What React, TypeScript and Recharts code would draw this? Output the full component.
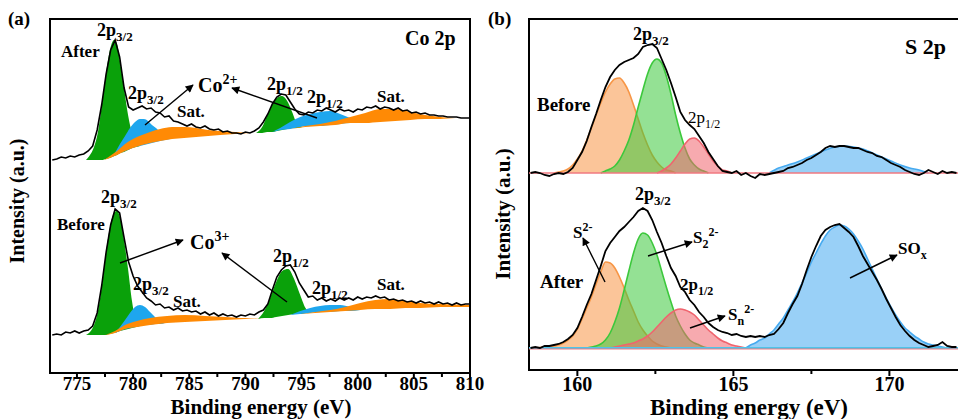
import React from 'react';
import {
  ComposedChart,
  Area,
  Line,
  XAxis,
  YAxis,
  ReferenceArea,
  ReferenceLine,
} from 'recharts';

const SERIF = '"Liberation Serif", "Times New Roman", serif';

// ---------- Co 2p ----------
const coEnergy = [
  772.8, 773.2, 773.6, 774, 774.4, 774.8, 775.2, 775.6, 776, 776.4,
  776.8, 777.2, 777.6, 778, 778.4, 778.8, 779.2, 779.6, 780, 780.4,
  780.8, 781.2, 781.6, 782, 782.4, 782.8, 783.2, 783.6, 784, 784.4,
  784.8, 785.2, 785.6, 786, 786.4, 786.8, 787.2, 787.6, 788, 788.4,
  788.8, 789.2, 789.6, 790, 790.4, 790.8, 791.2, 791.6, 792, 792.4,
  792.8, 793.2, 793.6, 794, 794.4, 794.8, 795.2, 795.6, 796, 796.4,
  796.8, 797.2, 797.6, 798, 798.4, 798.8, 799.2, 799.6, 800, 800.4,
  800.8, 801.2, 801.6, 802, 802.4, 802.8, 803.2, 803.6, 804, 804.4,
  804.8, 805.2, 805.6, 806, 806.4, 806.8, 807.2, 807.6, 808, 808.4,
  808.8, 809.2, 809.6, 810,
];

const coAfter = [
  213, 214, 216, 215, 217, 216, 218, 219, 222, 227,
  243, 268, 299, 323, 333, 316, 285, 266, 263, 265,
  267, 264, 265, 261, 260, 256, 257, 252, 251, 249,
  247, 249, 246, 245, 247, 244, 243, 244, 241, 242,
  240, 240, 239, 241, 240, 242, 245, 251, 259, 269,
  276, 279, 278, 271, 264, 259, 258, 261, 260, 263,
  262, 265, 263, 261, 264, 262, 263, 261, 264, 263,
  266, 265, 267, 264, 266, 265, 263, 265, 262, 263,
  260, 261, 259, 260, 258, 258, 257, 257, 256, 256,
  256, 255, 255, 255,
];

const coBefore = [
  38, 39, 38, 41, 40, 42, 40, 42, 43, 47,
  60, 87, 121, 148, 164, 160, 135, 111, 97, 87,
  81, 75, 72, 68, 69, 65, 66, 63, 65, 62,
  63, 61, 62, 59, 61, 58, 60, 57, 59, 57,
  58, 56, 58, 57, 59, 58, 61, 63, 69, 83,
  96, 103, 107, 108, 101, 90, 83, 76, 77, 73,
  75, 72, 74, 72, 75, 73, 75, 73, 76, 74,
  76, 75, 77, 75, 76, 73, 74, 72, 73, 71,
  72, 70, 72, 70, 71, 69, 71, 69, 70, 68,
  70, 68, 69, 69,
];

// fitted bands: [energy, background, top]
type Band = [number, number, number][];

const coAfterGreen32: Band = [
  [775.8, 213, 213], [776.16, 213, 218], [776.52, 213, 226], [776.87, 213, 241],
  [777.23, 213, 269], [777.58, 214, 299], [777.94, 215, 323], [778.3, 217, 333],
  [778.57, 218, 329], [778.83, 220, 312], [779.19, 221, 285], [779.55, 223, 258],
  [779.9, 225, 240], [780.26, 226, 228], [780.61, 227, 227],
];
const coAfterBlue32: Band = [
  [778.12, 216, 216], [778.48, 218, 222], [778.83, 220, 229], [779.28, 222, 237],
  [779.72, 224, 245], [780.17, 226, 251], [780.61, 227, 254], [780.97, 228, 254],
  [781.33, 229, 252], [781.68, 230, 248], [782.04, 231, 245], [782.4, 232, 241],
  [782.84, 233, 237], [783.29, 234, 235],
];
const coAfterSat1: Band = [
  [777.41, 213, 213], [777.94, 215, 217], [778.57, 218, 222], [779.28, 222, 229],
  [779.99, 225, 234], [780.79, 228, 238], [781.51, 230, 241], [782.4, 232, 244],
  [783.47, 234, 246], [784.54, 235, 246], [785.61, 236, 245], [786.68, 237, 243],
  [787.74, 238, 242], [789.08, 239, 241], [790.42, 240, 240],
];
const coAfterGreen12: Band = [
  [790.95, 240, 240], [791.49, 240, 246], [791.93, 241, 257], [792.38, 241, 268],
  [792.83, 242, 275], [793.27, 243, 277], [793.72, 244, 272], [794.16, 245, 261],
  [794.61, 245, 249], [795.05, 246, 246],
];
const coAfterBlue12: Band = [
  [792.38, 241, 241], [793.09, 243, 245], [793.98, 244, 251], [794.88, 246, 256],
  [795.77, 247, 259], [796.66, 247, 261], [797.55, 248, 262], [798.44, 249, 259],
  [799.33, 250, 255], [800.22, 250, 251],
];
const coAfterSat2: Band = [
  [793.98, 244, 244], [795.32, 246, 247], [796.66, 247, 249], [797.99, 248, 252],
  [799.33, 250, 256], [800.67, 250, 260], [802.01, 251, 264], [803.34, 252, 264],
  [804.68, 253, 261], [806.02, 254, 258], [807.35, 254, 256], [808.69, 255, 255],
  [810, 255, 255],
];

const coBeforeGreen32: Band = [
  [775.8, 38, 38], [776.16, 38, 41], [776.52, 38, 48], [776.87, 38, 62],
  [777.23, 38, 88], [777.58, 38, 120], [777.94, 39, 146], [778.3, 40, 160],
  [778.57, 41, 162], [778.83, 42, 156], [779.19, 43, 133], [779.55, 44, 104],
  [779.9, 45, 72], [780.26, 46, 52], [780.61, 47, 47],
];
const coBeforeBlue32: Band = [
  [778.39, 40, 40], [778.83, 42, 46], [779.28, 44, 53], [779.72, 45, 60],
  [780.17, 46, 66], [780.61, 47, 68], [781.06, 48, 66], [781.51, 48, 61],
  [781.95, 49, 56], [782.4, 49, 52], [782.84, 50, 50],
];
const coBeforeSat1: Band = [
  [777.5, 38, 38], [778.39, 40, 42], [779.28, 44, 48], [780.35, 46, 52],
  [781.51, 48, 55], [783.02, 50, 57], [784.62, 51, 58], [786.41, 52, 57],
  [788.19, 53, 56], [789.97, 54, 55], [791.31, 55, 55],
];
const coBeforeGreen12: Band = [
  [791.13, 54, 54], [791.67, 55, 62], [792.2, 55, 75], [792.74, 56, 91],
  [793.27, 57, 102], [793.81, 58, 104], [794.34, 59, 94], [794.88, 59, 78],
  [795.41, 60, 64], [795.95, 60, 60],
];
const coBeforeBlue12: Band = [
  [793.98, 58, 58], [794.88, 59, 62], [795.77, 60, 65], [796.66, 61, 67],
  [797.55, 61, 68], [798.44, 62, 68], [799.33, 62, 66], [800.22, 63, 63],
];
const coBeforeSat2: Band = [
  [794.88, 59, 59], [796.21, 60, 61], [797.55, 61, 63], [798.89, 62, 66],
  [800.22, 63, 70], [801.56, 64, 73], [802.9, 64, 74], [804.23, 65, 72],
  [805.57, 65, 70], [807.35, 66, 69], [810, 66, 68],
];

const coTicks = [775, 777.5, 780, 782.5, 785, 787.5, 790, 792.5, 795, 797.5, 800, 802.5, 805, 807.5, 810];

// ---------- S 2p ----------
const sEnergy = [
  158.5, 158.65, 158.8, 158.95, 159.1, 159.25, 159.4, 159.55, 159.7, 159.85,
  160, 160.15, 160.3, 160.45, 160.6, 160.75, 160.9, 161.05, 161.2, 161.35,
  161.5, 161.65, 161.8, 161.95, 162.1, 162.25, 162.4, 162.55, 162.7, 162.85,
  163, 163.15, 163.3, 163.45, 163.6, 163.75, 163.9, 164.05, 164.2, 164.35,
  164.5, 164.65, 164.8, 164.95, 165.1, 165.25, 165.4, 165.55, 165.7, 165.85,
  166, 166.15, 166.3, 166.45, 166.6, 166.75, 166.9, 167.05, 167.2, 167.35,
  167.5, 167.65, 167.8, 167.95, 168.1, 168.25, 168.4, 168.55, 168.7, 168.85,
  169, 169.15, 169.3, 169.45, 169.6, 169.75, 169.9, 170.05, 170.2, 170.35,
  170.5, 170.65, 170.8, 170.95, 171.1, 171.25, 171.4, 171.55, 171.7, 171.85,
  172, 172.15,
];

const sBefore = [
  197, 198, 197, 195, 194, 196, 197, 196, 198, 202,
  210, 218, 229, 243, 256, 270, 283, 293, 300, 305,
  308, 310, 312, 316, 323, 325, 326, 322, 311, 300,
  287, 273, 258, 250, 245, 241, 234, 227, 218, 211,
  204, 199, 198, 197, 199, 195, 197, 194, 192, 196,
  195, 196, 197, 198, 199, 202, 203, 205, 207, 210,
  212, 215, 218, 222, 224, 223, 224, 224, 223, 222,
  222, 220, 218, 217, 214, 213, 210, 207, 205, 203,
  200, 198, 196, 195, 197, 200, 198, 196, 199, 197,
  198, 197,
];

const sAfter = [
  22, 23, 22, 24, 24, 25, 26, 28, 31, 35,
  42, 53, 65, 76, 90, 104, 119, 127, 133, 139,
  143, 148, 153, 159, 162, 159, 150, 138, 127, 114,
  102, 94, 83, 78, 70, 65, 58, 53, 47, 43,
  40, 38, 37, 35, 36, 34, 33, 34, 33, 34,
  33, 35, 36, 41, 47, 57, 66, 74, 86, 100,
  113, 124, 134, 140, 143, 145, 146, 142, 138, 133,
  124, 114, 106, 98, 90, 81, 71, 62, 53, 45,
  39, 34, 30, 27, 25, 23, 24, 25, 28, 24,
  23, 23,
];

const sBaseBefore = 197;
const sBaseAfter = 22;

// fitted peaks: [energy, intensity]
type Peak = [number, number][];

const sBeforeS2: Peak = [
  [159.25, 197], [159.4, 198], [159.55, 199], [159.7, 201], [159.85, 205], [160, 211],
  [160.15, 219], [160.3, 230], [160.45, 242], [160.6, 255], [160.75, 267], [160.9, 278],
  [161.05, 286], [161.2, 291], [161.35, 292], [161.5, 287], [161.65, 278], [161.8, 265],
  [161.95, 251], [162.1, 237], [162.25, 225], [162.4, 215], [162.55, 208], [162.7, 203],
  [162.85, 200], [163, 199], [163.15, 197],
];
const sBeforeS22: Peak = [
  [160.75, 197], [160.9, 199], [161.05, 201], [161.2, 204], [161.35, 210], [161.5, 219],
  [161.65, 230], [161.8, 245], [161.95, 263], [162.1, 280], [162.25, 296], [162.4, 307],
  [162.55, 311], [162.7, 307], [162.85, 294], [163, 276], [163.15, 255], [163.3, 237],
  [163.45, 222], [163.6, 211], [163.75, 205], [163.9, 201], [164.05, 199], [164.2, 197],
];
const sBeforeSn: Peak = [
  [162.55, 197], [162.7, 199], [162.85, 202], [163, 206], [163.15, 212], [163.3, 219],
  [163.45, 226], [163.6, 231], [163.75, 232], [163.9, 229], [164.05, 223], [164.2, 216],
  [164.35, 209], [164.5, 204], [164.65, 200], [164.8, 199], [164.95, 197],
];
const sBeforeSOx: Peak = [
  [166.15, 197], [166.45, 202], [166.75, 205], [167.05, 208], [167.35, 212], [167.65, 216],
  [167.95, 220], [168.25, 223], [168.55, 224], [168.85, 223], [169.15, 221], [169.45, 217],
  [169.75, 213], [170.05, 209], [170.35, 205], [170.65, 202], [170.95, 200], [171.25, 197],
];

const sAfterS2: Peak = [
  [158.65, 22], [158.95, 23], [159.25, 24], [159.4, 25], [159.55, 27], [159.7, 30],
  [159.85, 34], [160, 41], [160.15, 51], [160.3, 62], [160.45, 73], [160.6, 86],
  [160.75, 98], [160.9, 108], [161.05, 107], [161.2, 102], [161.35, 93], [161.5, 82],
  [161.65, 70], [161.8, 59], [161.95, 48], [162.1, 40], [162.25, 34], [162.4, 29],
  [162.55, 26], [162.7, 24], [162.85, 23], [163, 22],
];
const sAfterS22: Peak = [
  [160.3, 22], [160.45, 23], [160.6, 24], [160.75, 26], [160.9, 30], [161.05, 37],
  [161.2, 48], [161.35, 62], [161.5, 80], [161.65, 99], [161.8, 117], [161.95, 131],
  [162.1, 137], [162.25, 135], [162.4, 127], [162.55, 115], [162.7, 99], [162.85, 83],
  [163, 68], [163.15, 54], [163.3, 44], [163.45, 36], [163.6, 30], [163.75, 27],
  [163.9, 25], [164.05, 23], [164.2, 22],
];
const sAfterSn: Peak = [
  [161.05, 22], [161.35, 24], [161.65, 26], [161.8, 27], [161.95, 29], [162.1, 31],
  [162.25, 34], [162.4, 38], [162.55, 43], [162.7, 48], [162.85, 53], [163, 57],
  [163.15, 60], [163.3, 61], [163.45, 60], [163.6, 58], [163.75, 55], [163.9, 50],
  [164.05, 45], [164.2, 40], [164.35, 36], [164.5, 32], [164.65, 29], [164.8, 27],
  [164.95, 25], [165.1, 24], [165.4, 22],
];
const sAfterSOx: Peak = [
  [165.4, 22], [165.55, 25], [165.7, 27], [165.85, 30], [166, 32], [166.15, 36],
  [166.3, 40], [166.45, 46], [166.6, 52], [166.75, 60], [166.9, 68], [167.05, 77],
  [167.2, 87], [167.35, 97], [167.5, 108], [167.65, 117], [167.8, 126], [167.95, 134],
  [168.1, 140], [168.25, 143], [168.4, 145], [168.55, 144], [168.7, 141], [168.85, 136],
  [169, 129], [169.15, 121], [169.3, 111], [169.45, 101], [169.6, 91], [169.75, 81],
  [169.9, 72], [170.05, 63], [170.2, 55], [170.35, 48], [170.5, 42], [170.65, 38],
  [170.8, 34], [170.95, 31], [171.1, 28], [171.25, 26], [171.4, 25], [171.55, 24],
  [171.85, 22],
];

const sTicks = [160, 162.5, 165, 167.5, 170, 172.5];

// ---------- row builders ----------
const trace = (energy: number[], values: number[]) =>
  energy.map((e, i) => ({ e, v: values[i] }));
const band = (b: Band) => b.map(([e, lo, hi]) => ({ e, r: [lo, hi] }));
const peak = (p: Peak) => p.map(([e, v]) => ({ e, v }));

const CO_GREEN = '#0aa10a';
const CO_BLUE = '#1ea6ee';
const CO_ORANGE = '#ff8a05';

const AxisTick = (props: any) => {
  const { x, y, payload, fontSize, labelDy } = props;
  const v = payload.value as number;
  const major = Math.abs(v - Math.round(v / 5) * 5) < 1e-6;
  return (
    <g>
      <line x1={x} x2={x} y1={y} y2={y + (major ? 6 : 4)} stroke="#000" strokeWidth={2} />
      {major && (
        <text
          x={x}
          y={y + labelDy}
          textAnchor="middle"
          fontFamily={SERIF}
          fontWeight="bold"
          fontSize={fontSize}
          fill="#000"
        >
          {v}
        </text>
      )}
    </g>
  );
};

const coBand = (b: Band, color: string, key: string) => (
  <Area
    key={key}
    data={band(b)}
    dataKey="r"
    type="monotone"
    stroke="none"
    fill={color}
    fillOpacity={1}
    isAnimationActive={false}
  />
);

const CoPanel = () => (
  <ComposedChart width={490} height={419} margin={{ top: 19, right: 20, bottom: 16, left: 50 }}>
    <XAxis
      dataKey="e"
      type="number"
      domain={[772.6, 810]}
      ticks={coTicks}
      interval={0}
      allowDataOverflow
      axisLine={false}
      tickLine={false}
      tickSize={0}
      tickMargin={0}
      height={30}
      tick={<AxisTick fontSize={19} labelDy={17} />}
    />
    <YAxis hide type="number" domain={[0, 354]} allowDataOverflow />
    {coBand(coAfterGreen32, CO_GREEN, 'ag32')}
    {coBand(coAfterGreen12, CO_GREEN, 'ag12')}
    {coBand(coAfterBlue32, CO_BLUE, 'ab32')}
    {coBand(coAfterBlue12, CO_BLUE, 'ab12')}
    {coBand(coAfterSat1, CO_ORANGE, 'as1')}
    {coBand(coAfterSat2, CO_ORANGE, 'as2')}
    {coBand(coBeforeGreen32, CO_GREEN, 'bg32')}
    {coBand(coBeforeGreen12, CO_GREEN, 'bg12')}
    {coBand(coBeforeBlue32, CO_BLUE, 'bb32')}
    {coBand(coBeforeBlue12, CO_BLUE, 'bb12')}
    {coBand(coBeforeSat1, CO_ORANGE, 'bs1')}
    {coBand(coBeforeSat2, CO_ORANGE, 'bs2')}
    <Line
      data={trace(coEnergy, coAfter)}
      dataKey="v"
      type="linear"
      stroke="#000"
      strokeWidth={1.6}
      dot={false}
      isAnimationActive={false}
    />
    <Line
      data={trace(coEnergy, coBefore)}
      dataKey="v"
      type="linear"
      stroke="#000"
      strokeWidth={1.6}
      dot={false}
      isAnimationActive={false}
    />
    <ReferenceArea x1={772.6} x2={810} y1={0} y2={354} fill="none" stroke="#000" strokeWidth={2} />
  </ComposedChart>
);

const S_ORANGE = '#f79646';
const S_GREEN = '#3cc83c';
const S_RED = '#f0646e';
const S_BLUE = '#46aaf0';

const sPeak = (p: Peak, base: number, color: string, key: string) => (
  <Area
    key={key}
    data={peak(p)}
    dataKey="v"
    baseValue={base}
    type="monotone"
    stroke={color}
    strokeWidth={1.6}
    fill={color}
    fillOpacity={0.55}
    isAnimationActive={false}
  />
);

const SPanel = () => (
  <ComposedChart width={513} height={419} margin={{ top: 19, right: 10, bottom: 19, left: 49 }}>
    <XAxis
      dataKey="e"
      type="number"
      domain={[158.45, 173]}
      ticks={sTicks}
      interval={0}
      allowDataOverflow
      axisLine={false}
      tickLine={false}
      tickSize={0}
      tickMargin={0}
      height={30}
      tick={<AxisTick fontSize={20} labelDy={21} />}
    />
    <YAxis hide type="number" domain={[0, 351]} allowDataOverflow />
    {sPeak(sBeforeS2, sBaseBefore, S_ORANGE, 'bo')}
    {sPeak(sBeforeS22, sBaseBefore, S_GREEN, 'bg')}
    {sPeak(sBeforeSn, sBaseBefore, S_RED, 'br')}
    {sPeak(sBeforeSOx, sBaseBefore, S_BLUE, 'bb')}
    {sPeak(sAfterS2, sBaseAfter, S_ORANGE, 'ao')}
    {sPeak(sAfterS22, sBaseAfter, S_GREEN, 'ag')}
    {sPeak(sAfterSn, sBaseAfter, S_RED, 'ar')}
    {sPeak(sAfterSOx, sBaseAfter, S_BLUE, 'ab')}
    <ReferenceLine y={sBaseBefore} stroke="#f07880" strokeWidth={1.5} />
    <ReferenceLine y={sBaseAfter} stroke="#4fc3e8" strokeWidth={2} />
    <ReferenceLine y={sBaseAfter - 1} stroke="#f07880" strokeWidth={1} />
    <Line
      data={trace(sEnergy, sBefore)}
      dataKey="v"
      type="linear"
      stroke="#000"
      strokeWidth={1.8}
      dot={false}
      isAnimationActive={false}
    />
    <Line
      data={trace(sEnergy, sAfter)}
      dataKey="v"
      type="linear"
      stroke="#000"
      strokeWidth={1.8}
      dot={false}
      isAnimationActive={false}
    />
    <ReferenceArea x1={158.45} x2={173} y1={0} y2={351} fill="none" stroke="#000" strokeWidth={2} />
  </ComposedChart>
);

// text label with optional subscript / superscript run
const Term = ({
  x,
  y,
  base,
  sub,
  sup,
  size = 17,
  weight = 'bold',
}: {
  x: number;
  y: number;
  base: string;
  sub?: string;
  sup?: string;
  size?: number;
  weight?: string;
}) => {
  const small = Math.round(size * 0.7);
  const subDy = size * 0.28;
  return (
    <text x={x} y={y} fontSize={size} fontWeight={weight} fontFamily={SERIF} fill="#000">
      {base}
      {sub && (
        <tspan fontSize={small} dy={subDy}>
          {sub}
        </tspan>
      )}
      {sup && (
        <tspan fontSize={small} dy={sub ? -subDy - size * 0.42 : -size * 0.42}>
          {sup}
        </tspan>
      )}
    </text>
  );
};

const Arrow = ({ x1, y1, x2, y2 }: { x1: number; y1: number; x2: number; y2: number }) => (
  <line x1={x1} y1={y1} x2={x2} y2={y2} stroke="#000" strokeWidth={1.4} markerEnd="url(#head)" />
);

const Annotations = () => (
  <svg
    width={958}
    height={419}
    style={{ position: 'absolute', left: 0, top: 0, pointerEvents: 'none' }}
  >
    <defs>
      <marker
        id="head"
        viewBox="0 0 10 10"
        refX="9"
        refY="5"
        markerWidth="10"
        markerHeight="8"
        markerUnits="userSpaceOnUse"
        orient="auto"
      >
        <path d="M0,0 L10,5 L0,10 z" fill="#000" />
      </marker>
    </defs>

    {/* panel (a) */}
    <Term x={8} y={25} base="(a)" size={19} />
    <Term x={405} y={45} base="Co 2p" size={20} />
    <Term x={61} y={57} base="After" size={17} />
    <Term x={97} y={36} base="2p" sub="3/2" size={18} />
    <Term x={128} y={99} base="2p" sub="3/2" size={18} />
    <Term x={177} y={117} base="Sat." />
    <Term x={198} y={92} base="Co" sup="2+" size={20} />
    <Term x={267} y={90} base="2p" sub="1/2" size={18} />
    <Term x={307} y={103} base="2p" sub="1/2" size={18} />
    <Term x={377} y={102} base="Sat." />
    <Arrow x1={145} y1={125} x2={193} y2={85} />
    <Arrow x1={317} y1={118} x2={232} y2={88} />

    <Term x={101} y={203} base="2p" sub="3/2" size={18} />
    <Term x={57} y={230} base="Before" size={17} />
    <Term x={190} y={249} base="Co" sup="3+" size={20} />
    <Term x={133} y={290} base="2p" sub="3/2" size={18} />
    <Term x={173} y={307} base="Sat." />
    <Term x={273} y={262} base="2p" sub="1/2" size={18} />
    <Term x={312} y={294} base="2p" sub="1/2" size={18} />
    <Term x={377} y={290} base="Sat." />
    <Arrow x1={120} y1={263} x2={183} y2={240} />
    <Arrow x1={287} y1={302} x2={222} y2={253} />

    <text
      x={261}
      y={414}
      textAnchor="middle"
      fontFamily={SERIF}
      fontWeight="bold"
      fontSize={21}
    >
      Binding energy (eV)
    </text>
    <text
      transform="translate(24 201) rotate(-90)"
      textAnchor="middle"
      fontFamily={SERIF}
      fontWeight="bold"
      fontSize={20}
    >
      Intensity (a.u.)
    </text>

    {/* panel (b) */}
    <Term x={488} y={25} base="(b)" size={19} />
    <Term x={905} y={54} base="S 2p" size={22} />
    <Term x={633} y={40} base="2p" sub="3/2" size={18} />
    <Term x={537} y={111} base="Before" size={19} />
    <Term x={688} y={123} base="2p" sub="1/2" weight="normal" />
    <Term x={635} y={200} base="2p" sub="3/2" size={18} />
    <Term x={573} y={238} base="S" sup="2-" />
    <Term x={540} y={288} base="After" size={19} />
    <Term x={693} y={243} base="S" sub="2" sup="2-" />
    <Term x={680} y={290} base="2p" sub="1/2" />
    <Term x={728} y={320} base="S" sub="n" sup="2-" />
    <Term x={898} y={254} base="SO" sub="x" />
    <Arrow x1={605} y1={282} x2={583} y2={238} />
    <Arrow x1={648} y1={256} x2={692} y2={242} />
    <Arrow x1={690} y1={328} x2={725} y2={316} />
    <Arrow x1={850} y1={278} x2={897} y2={255} />

    <text
      x={749}
      y={415}
      textAnchor="middle"
      fontFamily={SERIF}
      fontWeight="bold"
      fontSize={23}
    >
      Binding energy (eV)
    </text>
    <text
      transform="translate(510 214) rotate(-90)"
      textAnchor="middle"
      fontFamily={SERIF}
      fontWeight="bold"
      fontSize={21}
    >
      Intensity (a.u.)
    </text>
  </svg>
);

export default function App() {
  return (
    <div
      style={{
        position: 'absolute',
        left: 0,
        top: 0,
        width: 958,
        height: 419,
        overflow: 'hidden',
        background: '#fff',
        fontFamily: SERIF,
      }}
    >
      <div style={{ position: 'absolute', left: 0, top: 0 }}>
        <CoPanel />
      </div>
      <div style={{ position: 'absolute', left: 480, top: 0 }}>
        <SPanel />
      </div>
      <Annotations />
    </div>
  );
}
